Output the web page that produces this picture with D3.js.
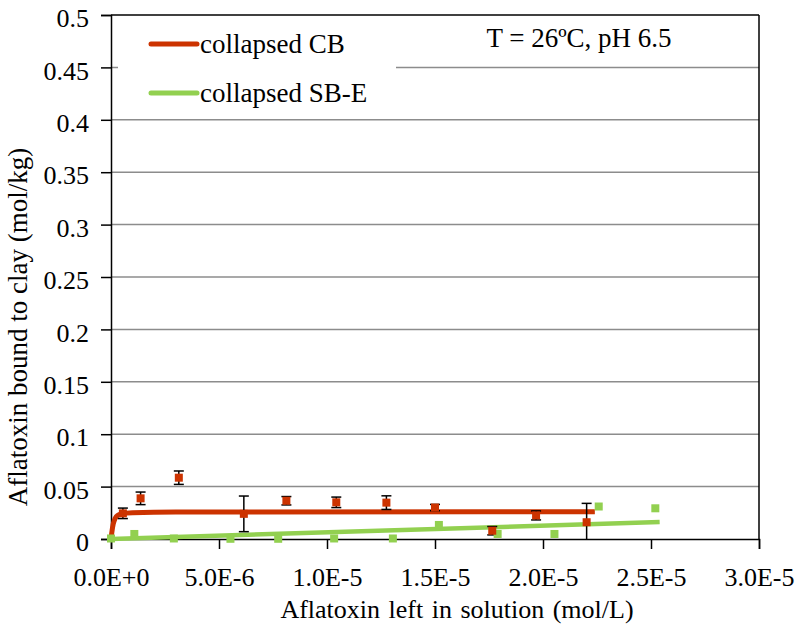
<!DOCTYPE html>
<html>
<head>
<meta charset="utf-8">
<script src="https://cdn.jsdelivr.net/npm/d3@7/dist/d3.min.js"></script>
<style>
  html, body { margin: 0; padding: 0; background: #fff; }
</style>
</head>
<body>
<svg id="chart" width="800" height="629"></svg>
<script>
// ---------- data ----------
const xTicks = [0, 5e-6, 1e-5, 1.5e-5, 2e-5, 2.5e-5, 3e-5];
const xTickLabels = ["0.0E+0", "5.0E-6", "1.0E-5", "1.5E-5", "2.0E-5", "2.5E-5", "3.0E-5"];
const yTicks = [0, 0.05, 0.1, 0.15, 0.2, 0.25, 0.3, 0.35, 0.4, 0.45, 0.5];
const yTickLabels = ["0", "0.05", "0.1", "0.15", "0.2", "0.25", "0.3", "0.35", "0.4", "0.45", "0.5"];

const seriesNames = ["collapsed CB", "collapsed SB-E"];

// collapsed CB measured points (C in mol/L, q in mol/kg, error bar)
const cbC   = [0.55e-6, 1.37e-6, 3.14e-6, 6.15e-6, 8.12e-6, 10.43e-6, 12.75e-6, 15.0e-6, 17.65e-6, 19.68e-6, 22.02e-6];
const cbQ   = [0.0245, 0.0388, 0.0585, 0.024, 0.0365, 0.035, 0.0347, 0.030, 0.0079, 0.0225, 0.016];
const cbErr = [0.005, 0.006, 0.0064, 0.017, 0.004, 0.005, 0.0065, 0.003, 0.004, 0.0043, 0.018];

// collapsed CB fitted curve
const cbFitC = [0, 0.05e-6, 0.1e-6, 0.2e-6, 0.3e-6, 0.5e-6, 1.0e-6, 3.0e-6, 22.4e-6];
const cbFitQ = [0, 0.008, 0.014, 0.020, 0.0225, 0.024, 0.025, 0.0257, 0.026];

// collapsed SB-E measured points
const sbC = [0, 1.08e-6, 2.91e-6, 5.53e-6, 7.74e-6, 10.33e-6, 13.05e-6, 15.18e-6, 17.9e-6, 20.53e-6, 22.58e-6, 25.2e-6];
const sbQ = [0.0005, 0.0048, 0.0005, 0.0002, 0.0002, 0.0005, 0.0005, 0.0134, 0.0048, 0.0048, 0.031, 0.0293];

// collapsed SB-E fitted line
const sbFitC = [0, 25.4e-6];
const sbFitQ = [0, 0.0162];

const annotation = "T = 26ºC, pH 6.5";
const xTitle = "Aflatoxin left in solution (mol/L)";
const yTitle = "Aflatoxin bound to clay (mol/kg)";

// ---------- layout ----------
const FONT = "'Liberation Serif'";
const red = "#cc3300";
const green = "#92d050";
const svg = d3.select("#chart");
const padL = 111, padR = 759, padT = 15, padB = 539;

const x = d3.scaleLinear().domain([0, 3e-5]).range([padL, padR]);
const y = d3.scaleLinear().domain([0, 0.5]).range([padB, padT]);

// gridlines
svg.append("g").selectAll("line")
  .data(yTicks.filter(v => v > 0 && v < 0.5))
  .join("line")
  .attr("x1", padL).attr("x2", padR)
  .attr("y1", d => y(d)).attr("y2", d => y(d))
  .attr("stroke", "#8c8c8c").attr("stroke-width", 1.5);

// top & right frame
svg.append("line").attr("x1", padL).attr("x2", padR).attr("y1", padT).attr("y2", padT)
  .attr("stroke", "#000").attr("stroke-width", 1.5);
svg.append("line").attr("x1", padR).attr("x2", padR).attr("y1", padT).attr("y2", padB)
  .attr("stroke", "#000").attr("stroke-width", 1.5);

// axes
const yAxis = d3.axisLeft(y).tickValues(yTicks)
  .tickFormat((d, i) => yTickLabels[i]).tickSize(10).tickPadding(12);
const gy = svg.append("g").attr("transform", `translate(${padL},0)`).call(yAxis);
const xAxis = d3.axisBottom(x).tickValues(xTicks)
  .tickFormat((d, i) => xTickLabels[i]).tickSize(10).tickPadding(14);
const gx = svg.append("g").attr("transform", `translate(0,${padB})`).call(xAxis);

[gx, gy].forEach(g => {
  g.attr("font-family", null).attr("font-size", null);
  g.select(".domain").attr("stroke", "#000").attr("stroke-width", 1.5);
  g.selectAll(".tick line").attr("stroke", "#000").attr("stroke-width", 1.5);
  g.selectAll(".tick text").attr("fill", "#000").style("font-size", "26px");
});
gy.selectAll(".tick text").attr("dy", "0.45em");
gx.selectAll(".tick text").attr("dy", "0.9em");

// fitted lines
const line = d3.line().x(d => x(d[0])).y(d => y(d[1])).curve(d3.curveMonotoneX);
svg.append("path").datum(sbFitC.map((c, i) => [c, sbFitQ[i]]))
  .attr("d", line).attr("fill", "none").attr("stroke", green).attr("stroke-width", 4.5);
svg.append("path").datum(cbFitC.map((c, i) => [c, cbFitQ[i]]))
  .attr("d", line).attr("fill", "none").attr("stroke", red).attr("stroke-width", 5);

// error bars for CB
const cb = cbC.map((c, i) => ({ c, q: cbQ[i], e: cbErr[i] }));
const eb = svg.append("g").attr("stroke", "#000").attr("stroke-width", 1.5);
eb.selectAll("line.v").data(cb).join("line").attr("class", "v")
  .attr("x1", d => x(d.c)).attr("x2", d => x(d.c))
  .attr("y1", d => y(d.q + d.e)).attr("y2", d => y(Math.max(0, d.q - d.e)));
eb.selectAll("line.t").data(cb).join("line").attr("class", "t")
  .attr("x1", d => x(d.c) - 5).attr("x2", d => x(d.c) + 5)
  .attr("y1", d => y(d.q + d.e)).attr("y2", d => y(d.q + d.e));
eb.selectAll("line.b").data(cb.filter(d => d.q - d.e > 0)).join("line").attr("class", "b")
  .attr("x1", d => x(d.c) - 5).attr("x2", d => x(d.c) + 5)
  .attr("y1", d => y(d.q - d.e)).attr("y2", d => y(d.q - d.e));

// markers
const ms = 8;
svg.append("g").selectAll("rect").data(sbC.map((c, i) => [c, sbQ[i]])).join("rect")
  .attr("x", d => x(d[0]) - ms / 2).attr("y", d => y(d[1]) - ms / 2)
  .attr("width", ms).attr("height", ms).attr("fill", green);
svg.append("g").selectAll("rect").data(cb).join("rect")
  .attr("x", d => x(d.c) - ms / 2).attr("y", d => y(d.q) - ms / 2)
  .attr("width", ms).attr("height", ms).attr("fill", red);

// legend
const lg = svg.append("g");
lg.append("rect").attr("x", 118).attr("y", 24).attr("width", 278).attr("height", 88).attr("fill", "#fff");
const legendItems = [{ name: seriesNames[0], color: red, yy: 44 }, { name: seriesNames[1], color: green, yy: 93 }];
legendItems.forEach(it => {
  lg.append("line").attr("x1", 151).attr("x2", 197).attr("y1", it.yy).attr("y2", it.yy)
    .attr("stroke", it.color).attr("stroke-width", 5).attr("stroke-linecap", "round");
  lg.append("text").attr("x", 200).attr("y", it.yy + 9).style("font-size", "27px").attr("fill", "#000")
    .text(it.name);
});

// annotation
svg.append("text").attr("x", 579).attr("y", 47).attr("text-anchor", "middle")
  .style("font-size", "27px").attr("fill", "#000").text(annotation);

// axis titles
svg.append("text").attr("x", 457).attr("y", 618).attr("text-anchor", "middle")
  .style("font-size", "26px").attr("fill", "#000").attr("word-spacing", "2px").text(xTitle);

svg.append("text").attr("transform", "translate(27,327) rotate(-90)")
  .attr("text-anchor", "middle").style("font-size", "27px").attr("fill", "#000")
  .text(yTitle);

svg.selectAll("text").style("font-family", FONT);
</script>
</body>
</html>
